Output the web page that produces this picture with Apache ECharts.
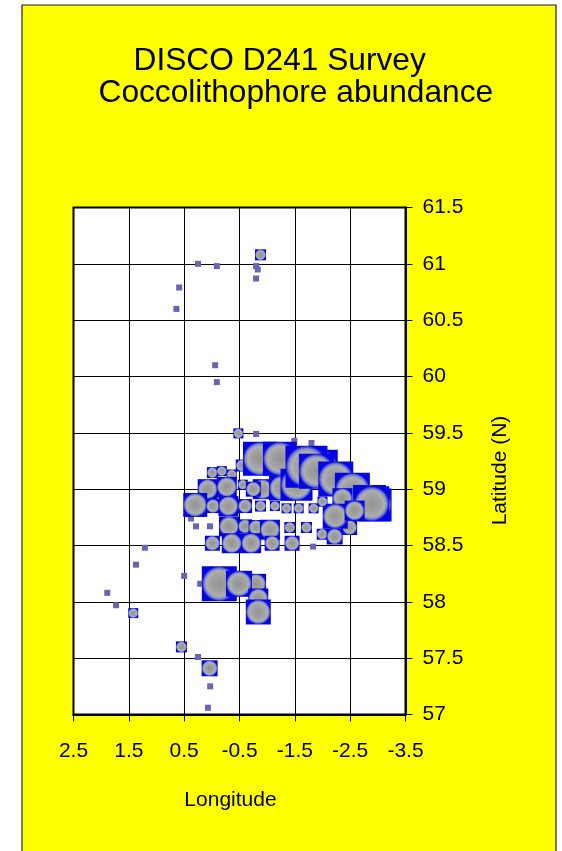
<!DOCTYPE html>
<html><head><meta charset="utf-8">
<style>html,body{margin:0;padding:0;background:#fff}#c{width:562px;height:851px}</style>
<script src="https://cdn.jsdelivr.net/npm/echarts@6/dist/echarts.min.js"></script>
</head><body><div id="c"></div>
<script>
const xTicks = [2.5,1.5,0.5,-0.5,-1.5,-2.5,-3.5];
const titleLines = ['DISCO D241 Survey','Coccolithophore abundance'];
// stations with trace abundance
const traceLon = [-0.80,-1.49,-1.80,0.376,0.286,0.033,-1.83,0.50,0.21,0.25,-0.09,-0.80,-0.83,-0.80,0.59,0.64,-0.06,-0.09,1.21,1.37,1.89,1.73,0.25,0.03,0.07];
const traceLat = [59.49,59.43,59.41,58.74,58.67,58.67,58.49,58.23,58.16,61.0,60.98,60.98,60.95,60.87,60.79,60.60,60.10,59.95,58.48,58.33,58.08,57.97,57.51,57.25,57.06];
// stations with measured abundance
const bubbleLon = [-0.88,1.42,0.55,0.04,-0.48,-0.01,-0.18,-0.36,-0.54,-0.56,0.075,-0.27,-0.92,-0.75,-1.26,-0.87,-1.23,-1.53,-1.95,-1.71,-1.89,-2.24,-2.54,-2.95,-2.85,-2.89,-2.36,-2.49,-2.23,-2.58,-2.0,-1.995,-2.22,0.30,-0.02,-0.30,-0.60,-0.88,-1.14,-1.35,-1.57,-1.84,-0.31,-0.60,-0.80,-1.05,-1.41,-1.71,-0.01,-0.36,-0.71,-1.09,-1.45,-0.135,-0.80,-0.49,-0.84,-0.84];
const bubbleLat = [61.08,57.90,57.60,57.41,59.495,59.147,59.16,59.13,59.21,59.04,59.0,59.02,59.0,59.0,59.01,59.27,59.27,59.04,59.19,59.20,59.16,59.09,58.99,58.86,58.89,58.87,58.92,58.66,58.76,58.81,58.89,58.60,58.58,58.86,58.85,58.85,58.85,58.85,58.85,58.83,58.83,58.83,58.67,58.67,58.66,58.64,58.66,58.66,58.52,58.52,58.52,58.52,58.52,58.16,58.16,58.16,58.03,57.91];
const bubbleAbundance = [11,10,11,16,10,11,10,10,12,10,20,20,20,15,25,34,34,32,36,42,35,35,35,33,33,35,20,15,25,20,10,11,16,24,14,20,14,11,10,10,10,10,20,14,15,20,11,11,15,20,20,15,15,35,20,26,20,25];

const bubbleFill = {type:'radial',x:.5,y:.5,r:.5,colorStops:[
  {offset:0,color:'#929292'},{offset:.55,color:'#a4a4a4'},{offset:.72,color:'#b0b0b0'},
  {offset:.86,color:'#7c88c8'},{offset:1,color:'#0404e4'}]};
const chart = echarts.init(document.getElementById('c'),null,{renderer:'canvas'});
const font = 'Liberation Sans';
chart.setOption({
  animation:false,
  backgroundColor:'#fff',
  graphic:[{type:'rect',z:-10,silent:true,shape:{x:22,y:5,width:534,height:860},
    style:{fill:'#ffff00',stroke:'#222',lineWidth:1.2}}],
  title:[
    {text:titleLines[0],left:133.5,top:45,padding:0,textStyle:{fontFamily:font,fontSize:31.7,fontWeight:'normal',color:'#000'}},
    {text:titleLines[1],left:98.5,top:77,padding:0,textStyle:{fontFamily:font,fontSize:31.7,fontWeight:'normal',color:'#000'}}
  ],
  grid:{left:73.5,top:207.5,width:332,height:507,show:true,backgroundColor:'#fff',borderColor:'#000',borderWidth:2,containLabel:false},
  xAxis:{type:'value',inverse:true,min:-3.5,max:2.5,interval:.5,
    name:'Longitude',nameLocation:'middle',nameGap:75,
    nameTextStyle:{fontFamily:font,fontSize:21,color:'#000',padding:[0,18,0,0]},
    axisLine:{show:true,onZero:false,lineStyle:{color:'#000',width:2}},
    axisTick:{show:true,length:7,customValues:xTicks,lineStyle:{color:'#000',width:1}},
    axisLabel:{customValues:xTicks,margin:26,fontFamily:font,fontSize:21,color:'#000',hideOverlap:false,showMinLabel:true,showMaxLabel:true},
    splitLine:{show:false}},
  yAxis:{type:'value',position:'right',min:57,max:61.5,interval:.5,
    name:'Latitude (N)',nameLocation:'middle',nameRotate:90,nameGap:84,
    nameTextStyle:{fontFamily:font,fontSize:21,color:'#000',padding:[0,19,0,0]},
    axisLine:{show:true,onZero:false,lineStyle:{color:'#000',width:2}},
    axisTick:{show:true,length:7,lineStyle:{color:'#000',width:1}},
    axisLabel:{margin:17,fontFamily:font,fontSize:21,color:'#000',showMinLabel:true,showMaxLabel:true},
    splitLine:{show:true,lineStyle:{color:'#000',width:1,type:'solid'}}},
  series:[
    {type:'scatter',name:'gridlines',data:[],silent:true,
      markLine:{silent:true,symbol:'none',label:{show:false},animation:false,z:1,
        lineStyle:{color:'#000',width:1,type:'solid'},
        data:xTicks.slice(1,-1).map(v=>({xAxis:v}))}},
    {type:'scatter',name:'Trace',z:3,symbol:'rect',symbolSize:6,itemStyle:{color:'#6666b4',opacity:1},
      data:traceLon.map((v,i)=>[v,traceLat[i]])},
    {type:'scatter',name:'Coccolithophore abundance',z:4,symbol:'rect',
      symbolSize:d=>d[2],itemStyle:{color:bubbleFill,opacity:1},
      data:bubbleLon.map((v,i)=>[v,bubbleLat[i],bubbleAbundance[i]])}
  ]
});
</script></body></html>
